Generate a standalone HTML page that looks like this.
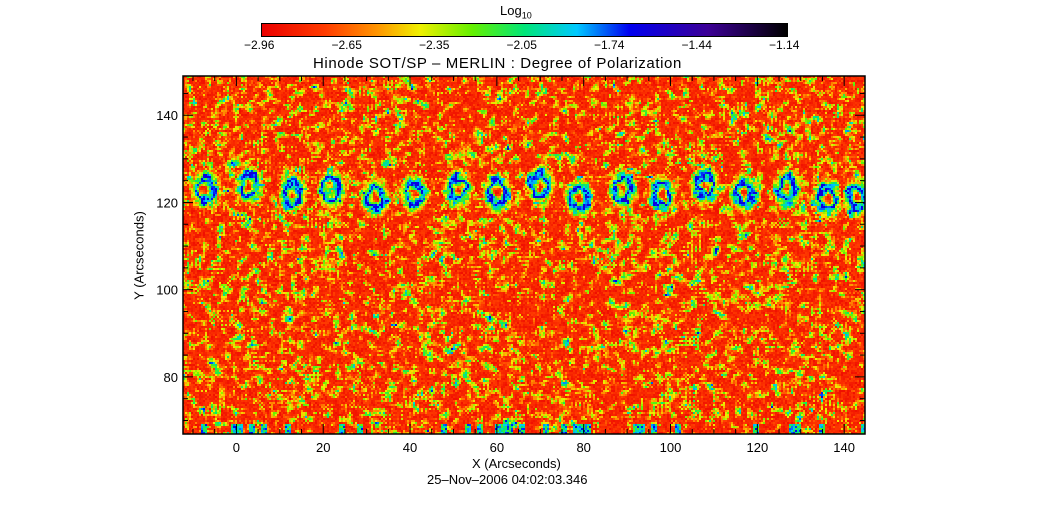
<!DOCTYPE html>
<html><head><meta charset="utf-8"><style>
body{margin:0;background:#fff;width:1048px;height:512px;overflow:hidden;position:relative;font-family:"Liberation Sans",sans-serif;}
.t{position:absolute;font-size:13px;color:#000;white-space:nowrap;}
canvas{position:absolute;image-rendering:pixelated;}
</style></head><body>
<div class="t" style="left:500px;top:3px;font-size:13px">Log<sub style="font-size:9px">10</sub></div>
<canvas id="cb" width="525" height="12" style="left:262px;top:24px;width:525px;height:12px;outline:1px solid #000"></canvas>
<div id="cbl"></div>
<div class="t" style="left:313px;top:55px;font-size:15px;letter-spacing:0.6px">Hinode SOT/SP – MERLIN : Degree of Polarization</div>
<canvas id="img" width="341" height="179" style="left:183px;top:76px;width:682px;height:358px"></canvas>
<svg id="ax" width="1048" height="512" style="position:absolute;left:0;top:0"></svg>
<div class="t" style="left:84px;top:248px;transform:rotate(-90deg);transform-origin:center;width:110px;text-align:center">Y (Arcseconds)</div>
<div class="t" style="left:472px;top:456px">X (Arcseconds)</div>
<div class="t" style="left:427px;top:472px">25–Nov–2006 04:02:03.346</div>
<script>
const cbTicks=["−2.96","−2.65","−2.35","−2.05","−1.74","−1.44","−1.14"];
const xTicks=[0,20,40,60,80,100,120,140];
const yTicks=[80,100,120,140];
const xRange=[-12.3,144.8], yRange=[66.9,149];
const blobX=[-7,3,13,22,32,41,51,60,70,79,89,98,108,117,127,136,143];
const blobY=[123,124,122,123,121,122,123,122,124,121,123,122,124,122,123,121,121];
const stops=[[0,235,0,0],[0.12,255,60,0],[0.22,255,150,0],[0.3,240,240,0],[0.4,100,240,0],[0.5,0,230,120],[0.6,0,200,255],[0.7,0,0,240],[0.85,60,0,150],[1,0,0,0]];
function cmap(v){v=Math.max(0,Math.min(1,v));for(let i=1;i<stops.length;i++){if(v<=stops[i][0]){const a=stops[i-1],b=stops[i],f=(v-a[0])/(b[0]-a[0]);return [a[1]+f*(b[1]-a[1]),a[2]+f*(b[2]-a[2]),a[3]+f*(b[3]-a[3])];}}return [0,0,0];}
const cb=document.getElementById('cb'),cx=cb.getContext('2d');
for(let i=0;i<525;i++){const c=cmap(i/524);cx.fillStyle=`rgb(${c.map(Math.round)})`;cx.fillRect(i,0,1,12);}
const cbl=document.getElementById('cbl');
cbTicks.forEach((t,i)=>{const d=document.createElement('div');d.className='t';


d.style.left=(262+i*525/6-18)+'px';d.style.top='38px';d.style.fontSize='12px';d.textContent=t;cbl.appendChild(d);});
const W=341,H=179,cv=document.getElementById('img'),g=cv.getContext('2d'),im=g.createImageData(W,H);
function h(x,y){let n=x*374761393+y*668265263;n=(n^(n>>>13))*1274126177;n=n^(n>>>16);return ((n>>>0)%10000)/10000;}
const f=new Float32Array(W*H),F=new Float32Array(W*H);
for(let y=0;y<H;y++)for(let x=0;x<W;x++){let s=0;for(let dy=-1;dy<=1;dy++)for(let dx=-1;dx<=1;dx++)s+=h(x+dx,y+dy);f[y*W+x]=s/9;}
for(let y=0;y<H;y++)for(let x=0;x<W;x++){let s=0,n=0;for(let dy=-4;dy<=4;dy+=2)for(let dx=-4;dx<=4;dx+=2){s+=h(x+dx+999,y+dy+77);n++;}F[y*W+x]=s/n;}
const px2d=(px)=>xRange[0]+(px+0.5)/W*(xRange[1]-xRange[0]);
const py2d=(py)=>yRange[1]-(py+0.5)/H*(yRange[1]-yRange[0]);
for(let y=0;y<H;y++)for(let x=0;x<W;x++){
 let v=Math.max(0,(f[y*W+x]-0.5)*1.8+(F[y*W+x]-0.5)*1.2)+0.03+h(x+5,y+11)*0.09;
 const dx=px2d(x),dy=py2d(y);
 for(let k=0;k<blobX.length;k++){const ex=(dx-blobX[k])/2.6,ey=(dy-blobY[k])/3.6;const r=Math.sqrt(ex*ex+ey*ey)+ (f[y*W+x]-0.5)*1.5;if(r<1.3)v=Math.max(v,0.76-Math.abs(r-0.7)*1.1);}
 if(dy<69&&h(Math.floor(x/3),5)>0.75)v=Math.max(v,0.4+h(x,y)*0.3);
 const c=cmap(v),i=(y*W+x)*4;im.data[i]=c[0];im.data[i+1]=c[1];im.data[i+2]=c[2];im.data[i+3]=255;}
g.putImageData(im,0,0);
const L=183,R=865,T=76,B=434;
const sx=v=>L+(v-xRange[0])/(xRange[1]-xRange[0])*(R-L);
const sy=v=>B-(v-yRange[0])/(yRange[1]-yRange[0])*(B-T);
let s=`<rect x="${L}" y="${T}" width="${R-L}" height="${B-T}" fill="none" stroke="#000" stroke-width="1.5"/>`;
for(let v=-10;v<=144;v+=5){const x=sx(v),len=v%20===0?10:5;s+=`<line x1="${x}" y1="${B}" x2="${x}" y2="${B-len}" stroke="#000"/><line x1="${x}" y1="${T}" x2="${x}" y2="${T+len}" stroke="#000"/>`;}
for(let v=70;v<=149;v+=5){const y=sy(v),len=v%20===0?10:5;s+=`<line x1="${L}" y1="${y}" x2="${L+len}" y2="${y}" stroke="#000"/><line x1="${R}" y1="${y}" x2="${R-len}" y2="${y}" stroke="#000"/>`;}
xTicks.forEach(v=>{s+=`<text x="${sx(v)}" y="${B+18}" text-anchor="middle" font-size="13" font-family="Liberation Sans">${v}</text>`;});
yTicks.forEach(v=>{s+=`<text x="${L-5}" y="${sy(v)+5}" text-anchor="end" font-size="13" font-family="Liberation Sans">${v}</text>`;});
document.getElementById('ax').innerHTML=s;
</script>
</body></html>
